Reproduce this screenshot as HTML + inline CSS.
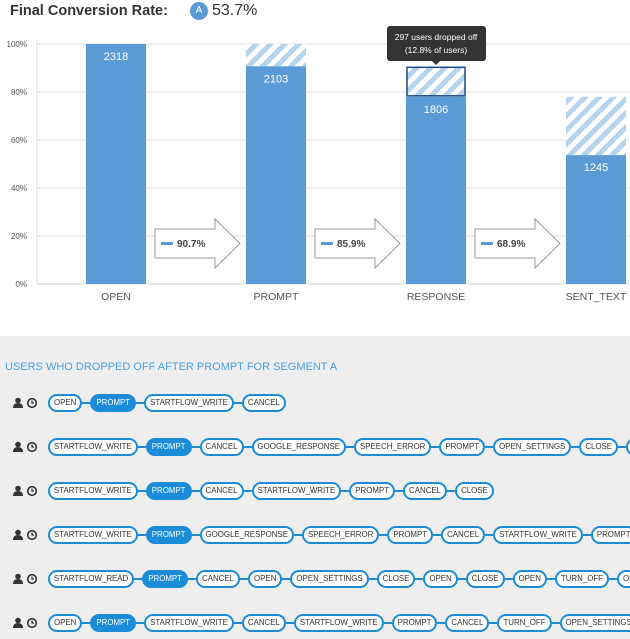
<!DOCTYPE html>
<html><head><meta charset="utf-8">
<style>
body{margin:0;width:630px;height:639px;overflow:hidden;background:#fff;font-family:"Liberation Sans",Arial,sans-serif;position:relative}
#title{position:absolute;left:10px;top:3px;font-size:14.5px;font-weight:bold;color:#333}
#rate{position:absolute;left:190px;top:2px;font-size:16px;color:#333;display:flex;align-items:center}
#gray{position:absolute;left:0;top:336px;width:630px;height:303px;background:#eee}
#seg{position:absolute;left:5px;top:361px;font-size:11px;color:#4a9fe0}
#rows{position:absolute;left:0;top:0;width:630px;height:639px;overflow:hidden}
.row{position:absolute;left:13px;display:flex;align-items:center;white-space:nowrap}
.pill{height:14px;line-height:14px;border:2px solid #1a8cd8;border-radius:9px;background:#fff;font-size:7.9px;color:#333;padding:0 4px;flex:none}
.pill.on{background:#1a8cd8;color:#fff}
.ln{width:8px;height:2px;background:#1a8cd8;flex:none}
</style></head><body>
<div id="title">Final Conversion Rate:</div>
<div id="rate"><span style="display:inline-block;width:18px;height:18px;border-radius:9px;background:#5b9bd5;color:#fff;font-size:10px;text-align:center;line-height:18px;margin-right:4px">A</span>53.7%</div>
<svg id="chart" width="630" height="330" style="position:absolute;left:0;top:0">
<defs><pattern id="st" patternUnits="userSpaceOnUse" width="10" height="10" patternTransform="rotate(45)"><rect width="10" height="10" fill="#fff"/><rect width="5" height="10" fill="#b3d3ee"/></pattern></defs>
<g id="grid"></g><g id="bars"></g><g id="arrows"></g><g id="tip"></g>
</svg>
<div id="gray"></div>
<div id="seg">USERS WHO DROPPED OFF AFTER PROMPT FOR SEGMENT A</div>
<div id="rows"></div>
<script>
const categories=["OPEN","PROMPT","RESPONSE","SENT_TEXT"];
const pcts=[100,90.7,78.0,53.7];
const counts=[2318,2103,1806,1245];
const convLabels=["90.7%","85.9%","68.9%"];
const yTicks=[0,20,40,60,80,100];
const NS="http://www.w3.org/2000/svg";
const x0=37,y0=284,yH=240,step=160,bw=60;
const y=v=>y0-v/100*yH, cx=i=>116+i*step;
function mk(t,a,p){const e=document.createElementNS(NS,t);for(const k in a)e.setAttribute(k,a[k]);p.appendChild(e);return e;}
const G=document.getElementById('grid');
yTicks.forEach(t=>{const l=mk('line',{x1:x0,x2:630,y1:y(t),y2:y(t),stroke:t?'#ddd':'#ccc'},G);


const tx=mk('text',{x:27,y:y(t)+3,'font-size':8,fill:'#555','text-anchor':'end'},G);tx.textContent=t+'%';

});
mk('line',{x1:x0,x2:x0,y1:40,y2:y0,stroke:'#ddd'},G);
const B=document.getElementById('bars');
categories.forEach((c,i)=>{
 const top=y(pcts[i]);
 if(i>0){const s=mk('rect',{x:cx(i)-bw/2,y:y(pcts[i-1]),width:bw,height:top-y(pcts[i-1]),fill:'url(#st)'},B);
 
 }
 const r=mk('rect',{x:cx(i)-bw/2,y:top,width:bw,height:y0-top,fill:'#5b9bd5'},B);
 
 
 const v=mk('text',{x:cx(i),y:top+16,'font-size':11,fill:'#fff','text-anchor':'middle'},B);v.textContent=counts[i];
 
 
 const l=mk('text',{x:cx(i),y:300,'font-size':10.5,fill:'#555','text-anchor':'middle'},B);l.textContent=c;
 
 
});
const A=document.getElementById('arrows');
convLabels.forEach((c,i)=>{const x=155+i*160;
 const p=mk('polygon',{points:`${x},229 ${x+60},229 ${x+60},219 ${x+85},243.5 ${x+60},268 ${x+60},258 ${x},258`,fill:'#fff',stroke:'#999','stroke-width':1},A);
 
 
 mk('rect',{x:x+6,y:242,width:12,height:3,fill:'#5b9bd5'},A);
 const t=mk('text',{x:x+22,y:247,'font-size':10,'font-weight':'bold',fill:'#444'},A);t.textContent=c;
 
 });
const T=document.getElementById('tip');
mk('rect',{x:cx(2)-bw/2+1,y:y(pcts[1])+1,width:bw-2,height:y(pcts[2])-y(pcts[1])-2,fill:'none',stroke:'#1f4e8c','stroke-width':1.5},T);
const tb=mk('rect',{x:387,y:26,width:99,height:35,rx:3,fill:'#333'},T);


mk('polygon',{points:'432,61 440,61 436,65',fill:'#333'},T);
[['297 users dropped off',40],['(12.8% of users)',53]].forEach(([s,yy])=>{const t=mk('text',{x:436,y:yy,'font-size':8.5,fill:'#fff','text-anchor':'middle'},T);t.textContent=s;});
const rowsData=[
["OPEN","PROMPT","STARTFLOW_WRITE","CANCEL"],
["STARTFLOW_WRITE","PROMPT","CANCEL","GOOGLE_RESPONSE","SPEECH_ERROR","PROMPT","OPEN_SETTINGS","CLOSE","PROMPT"],
["STARTFLOW_WRITE","PROMPT","CANCEL","STARTFLOW_WRITE","PROMPT","CANCEL","CLOSE"],
["STARTFLOW_WRITE","PROMPT","GOOGLE_RESPONSE","SPEECH_ERROR","PROMPT","CANCEL","STARTFLOW_WRITE","PROMPT"],
["STARTFLOW_READ","PROMPT","CANCEL","OPEN","OPEN_SETTINGS","CLOSE","OPEN","CLOSE","OPEN","TURN_OFF","OPEN"],
["OPEN","PROMPT","STARTFLOW_WRITE","CANCEL","STARTFLOW_WRITE","PROMPT","CANCEL","TURN_OFF","OPEN_SETTINGS"]];
const R=document.getElementById('rows');
rowsData.forEach((r,ri)=>{const d=document.createElement('div');d.className='row';d.style.top=(394+ri*44)+'px';
 
 
 d.innerHTML='<svg width="32" height="12" style="margin-right:3px"><circle cx="5" cy="3.5" r="2.8" fill="#333"/><path d="M0,11 Q0,6 5,6 Q10,6 10,11Z" fill="#333"/><circle cx="19" cy="6" r="4.3" fill="none" stroke="#333" stroke-width="1.6"/><path d="M19,3.5 V6 H21" stroke="#333" stroke-width="1.3" fill="none"/></svg>';
 let seen=false;
 r.forEach((s,i)=>{if(i){const l=document.createElement('div');l.className='ln';d.appendChild(l);}
  const p=document.createElement('div');p.className='pill'+(s==='PROMPT'&&!seen?' on':'');if(s==='PROMPT')seen=true;p.textContent=s;
  
  
  d.appendChild(p);});
 R.appendChild(d);});
</script>
</body></html>
